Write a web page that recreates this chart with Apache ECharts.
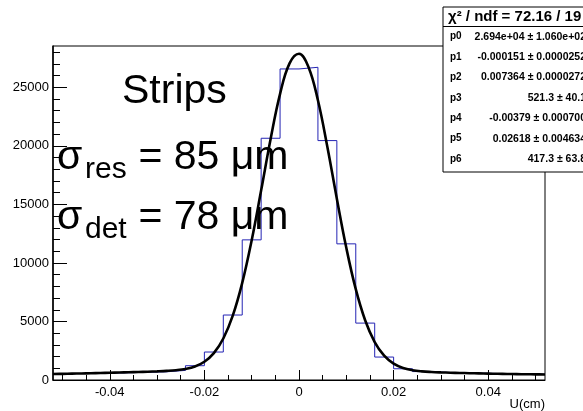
<!DOCTYPE html>
<html>
<head>
<meta charset="utf-8">
<script src="https://cdn.jsdelivr.net/npm/echarts@6/dist/echarts.min.js"></script>
<style>
html,body{margin:0;padding:0;background:#fff;}
#chart{width:583px;height:411px;}
</style>
</head>
<body>
<div id="chart"></div>
<script>
// ---- data ----
const binEdges = [-0.052,-0.048,-0.044,-0.040,-0.036,-0.032,-0.028,-0.024,-0.020,-0.016,-0.012,-0.008,-0.004,0,
                  0.004,0.008,0.012,0.016,0.020,0.024,0.028,0.032,0.036,0.040,0.044,0.048,0.052];
const binCounts = [550,560,590,620,660,700,820,1220,2390,5550,11970,20650,26570,
                   26710,20450,11630,4860,1960,960,720,640,600,570,540,510,490];
const fitX = [-0.052,-0.050,-0.048,-0.046,-0.044,-0.042,-0.040,-0.038,-0.036,-0.034,-0.032,-0.030,-0.028,-0.026,
              -0.024,-0.022,-0.020,-0.018,-0.016,-0.014,-0.012,-0.010,-0.008,-0.006,-0.004,-0.002,0,
              0.002,0.004,0.006,0.008,0.010,0.012,0.014,0.016,0.018,0.020,0.022,0.024,0.026,
              0.028,0.030,0.032,0.034,0.036,0.038,0.040,0.042,0.044,0.046,0.048,0.050,0.052];
const fitY = [513,527,543,559,578,597,618,639,662,686,711,740,778,838,
              947,1157,1560,2295,3543,5496,8296,11940,16199,20590,24439,27042,27867,
              26740,23899,19906,15486,11289,7757,5082,3241,2078,1400,1031,839,739,
              685,650,624,602,582,563,546,530,516,503,491,480,471];
const xMajorTicks = [-0.04,-0.02,0,0.02,0.04];
const xMinorTicks = [-0.05,-0.045,-0.04,-0.035,-0.03,-0.025,-0.02,-0.015,-0.01,-0.005,0,
                     0.005,0.01,0.015,0.02,0.025,0.03,0.035,0.04,0.045,0.05];
const yMajorTicks = [0,5000,10000,15000,20000,25000];
const yMinorTicks = [1000,2000,3000,4000,6000,7000,8000,9000,11000,12000,13000,14000,
                     16000,17000,18000,19000,21000,22000,23000,24000,26000,27000,28000];
const xRange = [-0.052, 0.052];
const yRange = [0, 28530];
const statTitle = 'χ² / ndf = 72.16 / 19';
const statNames = ['p0','p1','p2','p3','p4','p5','p6'];
const statValues = ['2.694e+04 ± 1.060e+02','-0.000151 ± 0.0000252','0.007364 ± 0.0000272',
                    '521.3 ± 40.1','-0.00379 ± 0.000700','0.02618 ± 0.004634','417.3 ± 63.8'];
const xTitle = 'U(cm)';

// ---- build ----
const histData = binCounts.map((c,i)=>[binEdges[i], c]);
histData.push([binEdges[binEdges.length-1], binCounts[binCounts.length-1]]);
const fitData = fitX.map((x,i)=>[x, fitY[i]]);

const FONT = 'Liberation Sans, Arial, Helvetica, sans-serif';
const chart = echarts.init(document.getElementById('chart'), null, {renderer:'canvas'});

const statGraphics = [];
const boxL = 443, boxT = 7, boxB = 172, rowH = 20.4;
statGraphics.push({type:'rect', shape:{x:boxL, y:boxT, width:200, height:boxB-boxT},
  style:{fill:'#fff', stroke:'#000', lineWidth:1}, z:100});
statGraphics.push({type:'line', shape:{x1:boxL, y1:boxT+19.5, x2:600, y2:boxT+19.5},
  style:{stroke:'#000', lineWidth:1}, z:101});
statGraphics.push({type:'text', x:448, y:boxT+10, z:102,
  style:{text:statTitle, font:'bold 15px '+FONT, fill:'#000', verticalAlign:'middle', align:'left'}});
statNames.forEach((n,i)=>{
  const yy = boxT + 19.5 + rowH*(i+0.5);
  statGraphics.push({type:'text', x:450, y:yy, z:102,
    style:{text:n, font:'bold 10px '+FONT, fill:'#000', verticalAlign:'middle', align:'left'}});
  statGraphics.push({type:'text', x:586, y:yy, z:102,
    style:{text:statValues[i], font:'bold 10.5px '+FONT, fill:'#000', verticalAlign:'middle', align:'right'}});
});

function sigmaLine(sub, rest, yBase) {
  return [
    {type:'text', x:57, y:yBase-14, z:50, style:{text:'σ', font:'41px '+FONT, fill:'#000', verticalAlign:'middle'}},
    {type:'text', x:85, y:yBase+8-10.4, z:50, style:{text:sub, font:'30px '+FONT, fill:'#000', verticalAlign:'middle'}},
    {type:'text', x:127, y:yBase-14, z:50, style:{text:rest, font:'41px '+FONT, fill:'#000', verticalAlign:'middle'}}
  ];
}

const option = {
  animation:false,
  backgroundColor:'#fff',
  grid:{left:53, right:38, top:46, bottom:31, show:true, borderColor:'#000', borderWidth:1, backgroundColor:'transparent'},
  xAxis:[
    {type:'value', min:xRange[0], max:xRange[1], position:'bottom',
     axisLine:{show:true, onZero:false, lineStyle:{color:'#000', width:1}},
     axisTick:{show:true, inside:true, length:10, customValues:xMajorTicks, lineStyle:{color:'#000'}},
     axisLabel:{show:true, customValues:xMajorTicks, formatter:v=>String(v), fontSize:13, fontFamily:FONT, color:'#000', margin:6},
     splitLine:{show:false}},
    {type:'value', min:xRange[0], max:xRange[1], position:'bottom',
     axisLine:{show:false, onZero:false},
     axisTick:{show:true, inside:true, length:5, customValues:xMinorTicks, lineStyle:{color:'#000'}},
     axisLabel:{show:false}, splitLine:{show:false}}
  ],
  yAxis:[
    {type:'value', min:yRange[0], max:yRange[1], position:'left',
     axisLine:{show:true, onZero:false, lineStyle:{color:'#000', width:1.5}},
     axisTick:{show:true, inside:true, length:14, customValues:yMajorTicks, lineStyle:{color:'#000'}},
     axisLabel:{show:true, customValues:yMajorTicks, formatter:v=>String(v), fontSize:13, fontFamily:FONT, color:'#000', margin:4},
     splitLine:{show:false}},
    {type:'value', min:yRange[0], max:yRange[1], position:'left',
     axisLine:{show:false, onZero:false},
     axisTick:{show:true, inside:true, length:7, customValues:yMinorTicks, lineStyle:{color:'#000'}},
     axisLabel:{show:false}, splitLine:{show:false}}
  ],
  series:[
    {type:'line', name:'hist', xAxisIndex:0, yAxisIndex:0, data:histData, step:'end',
     showSymbol:false, symbol:'none', lineStyle:{color:'#2424b4', width:1}, z:2},
    {type:'line', name:'fit', xAxisIndex:0, yAxisIndex:0, data:fitData, smooth:0.4,
     showSymbol:false, symbol:'none', lineStyle:{color:'#000', width:2.6}, z:3}
  ],
  graphic:[
    {type:'text', x:122, y:92, z:50, style:{text:'Strips', font:'41px '+FONT, fill:'#000', verticalAlign:'middle'}},
    ...sigmaLine('res', ' = 85 μm', 172),
    ...sigmaLine('det', ' = 78 μm', 232),
    {type:'text', x:545, y:404, z:50, style:{text:xTitle, font:'13px '+FONT, fill:'#000', align:'right', verticalAlign:'middle'}},
    ...statGraphics
  ]
};
chart.setOption(option);
</script>
</body>
</html>
